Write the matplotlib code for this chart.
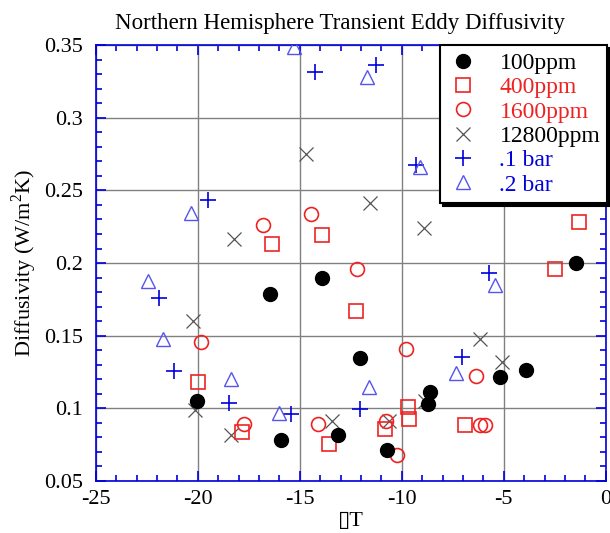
import numpy as np
import matplotlib.pyplot as plt
from matplotlib.ticker import MultipleLocator

plt.rcParams['font.family'] = ['Liberation Serif', 'DejaVu Serif']
plt.rcParams['mathtext.fontset'] = 'custom'
plt.rcParams['mathtext.rm'] = 'Liberation Serif'

# delta T vs diffusivity for each run
x_100 = [-20.05, -16.47, -13.92, -15.93, -13.12, -12.06, -10.70, -8.63, -8.71, -5.20, -3.92, -1.47]
y_100 = [0.105, 0.1786, 0.190, 0.078, 0.0815, 0.1345, 0.071, 0.111, 0.1026, 0.1217, 0.126, 0.200]

x_400 = [-16.37, -13.91, -1.31, -2.50, -12.22, -19.98, -17.83, -13.58, -10.83, -9.67, -9.62, -6.91]
y_400 = [0.213, 0.219, 0.228, 0.1957, 0.167, 0.118, 0.0838, 0.0753, 0.0856, 0.101, 0.0927, 0.0882]

x_1600 = [-16.78, -14.45, -12.17, -19.82, -17.73, -14.12, -9.77, -10.75, -10.21, -6.34, -6.18, -5.90]
y_1600 = [0.226, 0.2335, 0.1957, 0.1458, 0.089, 0.0889, 0.141, 0.0911, 0.0679, 0.122, 0.0882, 0.0882]

x_12800 = [-14.67, -18.22, -11.57, -8.91, -20.23, -20.15, -18.35, -13.42, -10.64, -6.18, -5.08, -8.85]
y_12800 = [0.275, 0.2165, 0.2415, 0.2243, 0.160, 0.0987, 0.0815, 0.0913, 0.0913, 0.148, 0.132, 0.105]

x_1bar = [-14.26, -11.27, -9.28, -19.49, -21.91, -21.16, -18.47, -15.44, -12.06, -7.07, -5.72]
y_1bar = [0.3318, 0.3364, 0.2675, 0.2434, 0.176, 0.1256, 0.1033, 0.0957, 0.0992, 0.135, 0.193]

x_2bar = [-15.28, -11.70, -9.12, -20.31, -22.44, -21.70, -18.37, -16.04, -11.60, -7.35, -5.43]
y_2bar = [0.349, 0.328, 0.2663, 0.2346, 0.1878, 0.1476, 0.120, 0.0969, 0.1143, 0.124, 0.1848]

xticks = [-25, -20, -15, -10, -5, 0]
xtick_labels = ['-25', '-20', '-15', '-10', '-5', '0']
yticks = [0.05, 0.1, 0.15, 0.2, 0.25, 0.3, 0.35]
ytick_labels = ['0.05', '0.1', '0.15', '0.2', '0.25', '0.3', '0.35']

blue = '#0000dd'
red = '#ee2222'

fig = plt.figure(figsize=(6.1, 5.33), dpi=100)
ax = fig.add_axes([0.157, 0.098, 0.836, 0.817])

ax.plot(x_100, y_100, 'o', ms=10, color='black', label='100ppm', zorder=5)
ax.plot(x_400, y_400, 's', ms=10, mfc='none', mec=red, mew=1.2, label='400ppm', zorder=4)
ax.plot(x_1600, y_1600, 'o', ms=10, mfc='none', mec=red, mew=1.2, label='1600ppm', zorder=4)
ax.plot(x_12800, y_12800, 'x', ms=10, color='#555555', mew=0.9, label='12800ppm', zorder=3)
ax.plot(x_1bar, y_1bar, '+', ms=11, color=blue, mew=1.2, label='.1 bar', zorder=3)
ax.plot(x_2bar, y_2bar, '^', ms=10, mfc='none', mec='#5555ee', mew=1.0, label='.2 bar', zorder=3)

ax.set_xlim(-25, 0)
ax.set_ylim(0.05, 0.35)
ax.set_xticks(xticks)
ax.set_xticklabels(xtick_labels)
ax.set_yticks(yticks)
ax.set_yticklabels(ytick_labels)
ax.xaxis.set_minor_locator(MultipleLocator(1))
ax.yaxis.set_minor_locator(MultipleLocator(0.01))

ax.grid(True, which='major', color='#808080', lw=1.0)
ax.set_axisbelow(True)
for s in ax.spines.values():
    s.set_color(blue)
    s.set_linewidth(1.2)
ax.tick_params(which='both', direction='in', top=True, right=True, color=blue,
               labelsize=16, width=1.2)
ax.tick_params(which='major', length=7)
ax.tick_params(which='minor', length=4)
ax.tick_params(axis='y', pad=9)
ax.tick_params(axis='x', pad=7)

ax.set_title('Northern Hemisphere Transient Eddy Diffusivity', fontsize=16.5, pad=12, x=0.479)
ax.set_xlabel('\u25afT', fontsize=16, labelpad=2)
ax.set_ylabel('Diffusivity (W/m$^2$K)', fontsize=16, labelpad=4)

leg = ax.legend(loc='upper right', bbox_to_anchor=(1.003, 1.0), borderaxespad=0,
                fontsize=17, frameon=True, fancybox=False,
                shadow={'color': 'black', 'alpha': 1.0}, handletextpad=0.9,
                labelspacing=0.12, borderpad=0.3, handlelength=1.3)
leg.get_frame().set_edgecolor('black')
leg.get_frame().set_linewidth(1.5)
leg.set_zorder(10)
for t, c in zip(leg.get_texts(), ['black', red, red, 'black', blue, blue]):
    t.set_color(c)

fig.savefig('out.png', dpi=100)
